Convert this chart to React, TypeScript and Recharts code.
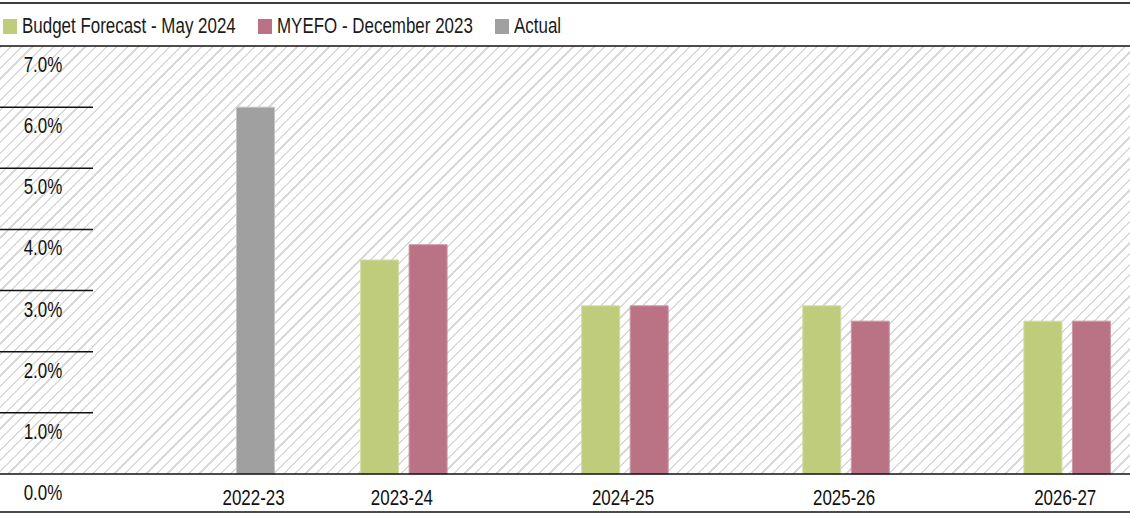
import { Bar, BarChart, Legend, XAxis, YAxis } from "recharts";

const years = ["2022-23", "2023-24", "2024-25", "2025-26", "2026-27"];
const budget = [null, 3.5, 2.75, 2.75, 2.5];
const myefo = [null, 3.75, 2.75, 2.5, 2.5];
const actual = [6.0, null, null, null, null];
const yTicks = [0, 1, 2, 3, 4, 5, 6, 7];

const SERIES = [
  { key: "budget", name: "Budget Forecast - May 2024", fill: "#bfcc7c", stroke: "#d2dba6" },
  { key: "myefo", name: "MYEFO - December 2023", fill: "#b97385", stroke: "#cb98a6" },
  { key: "actual", name: "Actual", fill: "#a0a0a0", stroke: "#c6c6c6" },
];

// no narrow font installed, so squeeze Liberation Sans sideways
const FONT = "'Liberation Sans', Arial, sans-serif";
const FS = 22;
const SX = 0.77;
const CHART_W = 1202;
const BAR = 38;
const GAP = 10.5;

const data = years.map((year, i) => ({
  year,
  budget: budget[i],
  myefo: myefo[i],
  actual: actual[i],
}));

let ctx: CanvasRenderingContext2D | null = null;
function textWidth(t: string) {
  if (!ctx) ctx = document.createElement("canvas").getContext("2d");
  if (!ctx) return t.length * FS * 0.5;
  ctx.font = `${FS}px ${FONT}`;
  return ctx.measureText(t).width;
}

// label sits over the middle of whichever bars the year actually has
function labelOffset(i: number) {
  const slots = [budget[i], myefo[i], actual[i]]
    .map((v, s) => (v == null ? null : (s - 1) * (BAR + GAP)))
    .filter((v) => v != null) as number[];
  return slots.reduce((a, b) => a + b, 0) / slots.length - 2;
}

function Narrow({ x, y, children }: { x: number; y: number; children: any }) {
  return (
    <text
      transform={`translate(${x},${y}) scale(${SX},1)`}
      textAnchor="middle"
      fontSize={FS}
      fill="#111"
      fontFamily={FONT}
    >
      {children}
    </text>
  );
}

function YTick(props: any) {
  const { y, payload } = props;
  const v = payload.value as number;
  const full = v === 0 || v === 7;
  return (
    <g>
      <line x1={0} x2={full ? CHART_W : 93} y1={y} y2={y} stroke="#111" strokeWidth={1.5} />
      {v === 0 && <line x1={0} x2={CHART_W} y1={y + 38} y2={y + 38} stroke="#111" strokeWidth={1.5} />}
      <Narrow x={43} y={y + 26}>{v.toFixed(1)}%</Narrow>
    </g>
  );
}

function XTick(props: any) {
  const { x, y, payload, index } = props;
  return <Narrow x={x + labelOffset(index)} y={y + 29}>{payload.value}</Narrow>;
}

function LegendBox() {
  return (
    <div style={{ height: 46, position: "relative", fontFamily: FONT }}>
      <div style={{ position: "absolute", top: 1.5, left: 0, width: 1130, height: 2, background: "#3c3c3c" }} />
      <div style={{ position: "absolute", top: 12, left: 3, height: 28, display: "flex", alignItems: "center" }}>
        {SERIES.map((s, i) => (
          <div key={s.key} style={{ display: "flex", alignItems: "center", marginLeft: i ? 22 : 0 }}>
            <span style={{ width: 14, height: 15, background: s.fill, display: "inline-block", marginRight: 5 }} />
            <span style={{ width: textWidth(s.name) * SX, display: "inline-block", whiteSpace: "nowrap" }}>
              <span
                style={{
                  fontSize: FS,
                  color: "#1a1a1a",
                  display: "inline-block",
                  transform: `scaleX(${SX})`,
                  transformOrigin: "0 50%",
                }}
              >
                {s.name}
              </span>
            </span>
          </div>
        ))}
      </div>
    </div>
  );
}

export default function App() {
  return (
    <div style={{ position: "relative", width: 1130, height: 517, overflow: "hidden", background: "#fff" }}>
      <style>{"body{margin:0}"}</style>
      <div
        style={{
          position: "absolute",
          left: 0,
          top: 46,
          width: 1130,
          height: 428,
          background: "repeating-linear-gradient(135deg, #d9d9d9 0 1.6px, #ffffff 1.6px 7.5px)",
        }}
      />
      <div style={{ position: "absolute", left: 0, top: 0 }}>
        <BarChart
          width={CHART_W}
          height={517}
          data={data}
          margin={{ top: 0, right: 0, bottom: 5, left: 0 }}
          barCategoryGap={43}
          barGap={GAP}
        >
          <Legend verticalAlign="top" align="left" height={46} content={() => <LegendBox />} />
          <XAxis dataKey="year" axisLine={false} tickLine={false} tickSize={0} height={38} interval={0} tick={<XTick />} />
          <YAxis
            domain={[0, 7]}
            ticks={yTicks}
            width={96.5}
            axisLine={false}
            tickLine={false}
            tickSize={0}
            interval={0}
            tick={<YTick />}
          />
          {SERIES.map((s) => (
            <Bar
              key={s.key}
              dataKey={s.key}
              name={s.name}
              fill={s.fill}
              stroke={s.stroke}
              strokeWidth={1}
              isAnimationActive={false}
            />
          ))}
        </BarChart>
      </div>
    </div>
  );
}
